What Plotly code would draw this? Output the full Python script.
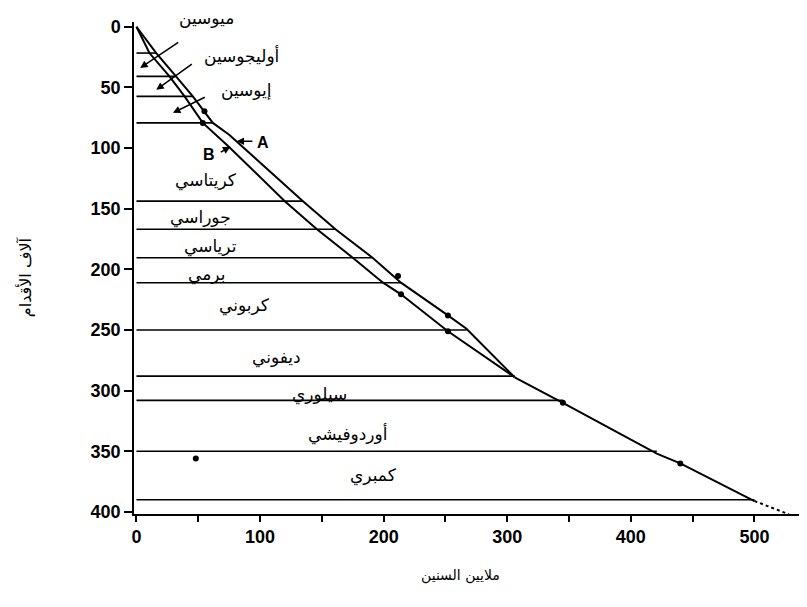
import plotly.graph_objects as go

# ---- data (age in million years, depth in thousand feet) ----
curve_a_age = [0, 16, 32, 45.6, 61.8, 75, 134.7, 161, 191, 214, 252, 267, 306]
curve_a_depth = [0, 21.7, 40.9, 57.4, 79.3, 89, 143.8, 167, 190.4, 211, 238, 249, 289]

curve_b_age = [0, 10.5, 26.7, 38.9, 53.7, 74.3, 120, 146, 175, 199.5, 214, 252, 306]
curve_b_depth = [0, 21.7, 40.9, 57.4, 79.3, 98.5, 143.8, 167, 190.4, 211, 220.6, 251, 289]

common_age = [306, 345, 421, 440, 500]
common_depth = [289, 310, 352, 360, 391]

dashed_age = [500, 528]
dashed_depth = [391, 402]

boundary_depth = [21.7, 40.9, 57.4, 79.3, 143.8, 167, 190.4, 211, 250, 288, 308, 350, 390]
boundary_end_age = [16, 32, 45.6, 61.8, 134.7, 161, 191, 214, 267, 306, 345, 421, 500]

dot_age = [55, 211.6, 252, 53.7, 214, 252, 345, 440, 48]
dot_depth = [69.7, 205.5, 238, 79.3, 220.6, 251, 310, 360, 356]

period_names = ["كريتاسي", "جوراسي", "ترياسي", "برمي", "كربوني",
                "ديفوني", "سيلوري", "أوردوفيشي", "كمبري"]
period_label_age = [56, 52, 60, 57, 87, 113, 148, 171, 192]
period_label_depth = [127, 157.5, 181, 204, 230, 272.5, 303, 336, 370]

epoch_names = ["ميوسين", "أوليجوسين", "إيوسين"]
epoch_label_age = [57, 85, 89]
epoch_label_depth = [-3.5, 24, 52]
epoch_tail_age = [35, 46, 56.5]
epoch_tail_depth = [12, 30, 57.5]
epoch_tip_age = [3, 16, 29.5]
epoch_tip_depth = [34, 52, 71]

x_ticks = [0, 50, 100, 150, 200, 250, 300, 350, 400, 450, 500]
x_ticktext = ["0", "", "100", "", "200", "", "300", "", "400", "", "500"]
y_ticks = [0, 50, 100, 150, 200, 250, 300, 350, 400]

x_title = "ملايين السنين"
y_title = "آلاف الأقدام"

ARABIC = "DejaVu Sans"
LATIN = "Liberation Sans"

fig = go.Figure()

# period boundary lines
hx, hy = [], []
for d, e in zip(boundary_depth, boundary_end_age):
    hx += [0, e, None]
    hy += [d, d, None]
fig.add_trace(go.Scatter(x=hx, y=hy, mode="lines",
                         line=dict(color="black", width=1.6), hoverinfo="skip"))

# curves
fig.add_trace(go.Scatter(x=curve_a_age, y=curve_a_depth, mode="lines",
                         line=dict(color="black", width=2)))
fig.add_trace(go.Scatter(x=curve_b_age, y=curve_b_depth, mode="lines",
                         line=dict(color="black", width=2)))
fig.add_trace(go.Scatter(x=common_age, y=common_depth, mode="lines",
                         line=dict(color="black", width=2)))
fig.add_trace(go.Scatter(x=dashed_age, y=dashed_depth, mode="lines",
                         line=dict(color="black", width=2, dash="dot")))
fig.add_trace(go.Scatter(x=dot_age, y=dot_depth, mode="markers",
                         marker=dict(color="black", size=6)))

ann = []
for n, x, y in zip(period_names, period_label_age, period_label_depth):
    ann.append(dict(x=x, y=y, xref="x", yref="y", text=n, showarrow=False,
                    font=dict(family=ARABIC, size=17, color="black")))
for i, (n, x, y) in enumerate(zip(epoch_names, epoch_label_age, epoch_label_depth)):
    ann.append(dict(x=x, y=y, xref="x", yref="y", text=n, showarrow=False,
                    yshift=4 if i == 0 else 0,
                    font=dict(family=ARABIC, size=17, color="black")))
for tx, ty, ex, ey in zip(epoch_tail_age, epoch_tail_depth, epoch_tip_age, epoch_tip_depth):
    ann.append(dict(x=ex, y=ey, ax=tx, ay=ty, xref="x", yref="y", axref="x", ayref="y",
                    text="", showarrow=True, arrowhead=2, arrowsize=1, arrowwidth=1.5,
                    arrowcolor="black"))

# A and B labels with pointers
ann.append(dict(x=102.5, y=95.5, xref="x", yref="y", text="<b>A</b>", showarrow=False,
                font=dict(family=LATIN, size=16, color="black")))
ann.append(dict(x=81, y=94.5, ax=95, ay=94.5, xref="x", yref="y", axref="x", ayref="y",
                text="", showarrow=True, arrowhead=2, arrowwidth=1.5, arrowcolor="black"))
ann.append(dict(x=59, y=105, xref="x", yref="y", text="<b>B</b>", showarrow=False,
                font=dict(family=LATIN, size=16, color="black")))
ann.append(dict(x=76, y=99, ax=67, ay=104, xref="x", yref="y", axref="x", ayref="y",
                text="", showarrow=True, arrowhead=2, arrowwidth=1.5, arrowcolor="black"))

# axis titles
ann.append(dict(x=0.486, y=-0.125, xref="paper", yref="paper", text=x_title, showarrow=False,
                xanchor="center", yanchor="middle",
                font=dict(family=ARABIC, size=14, color="black")))
ann.append(dict(x=-0.162, y=0.482, xref="paper", yref="paper", text=y_title, showarrow=False,
                xanchor="center", yanchor="middle",
                textangle=-90, font=dict(family=ARABIC, size=16, color="black")))

fig.update_layout(
    width=799, height=599,
    margin=dict(l=126, r=2, t=14, b=93),
    paper_bgcolor="white", plot_bgcolor="white",
    showlegend=False,
    annotations=ann,
    xaxis=dict(range=[-2, 540.9], tickvals=x_ticks, ticktext=x_ticktext,
               showline=True, linecolor="black", linewidth=1.5,
               ticks="outside", ticklen=6, tickwidth=1.5, tickcolor="black",
               showgrid=False, zeroline=False,
               tickfont=dict(family=LATIN, size=18, color="black", weight="bold")),
    yaxis=dict(range=[401.7, -3.9], tickvals=y_ticks,
               showline=True, linecolor="black", linewidth=1.5,
               ticks="outside", ticklen=8, tickwidth=1.5, tickcolor="black",
               showgrid=False, zeroline=False,
               tickfont=dict(family=LATIN, size=18, color="black", weight="bold")),
)

fig.write_html("out.html")
